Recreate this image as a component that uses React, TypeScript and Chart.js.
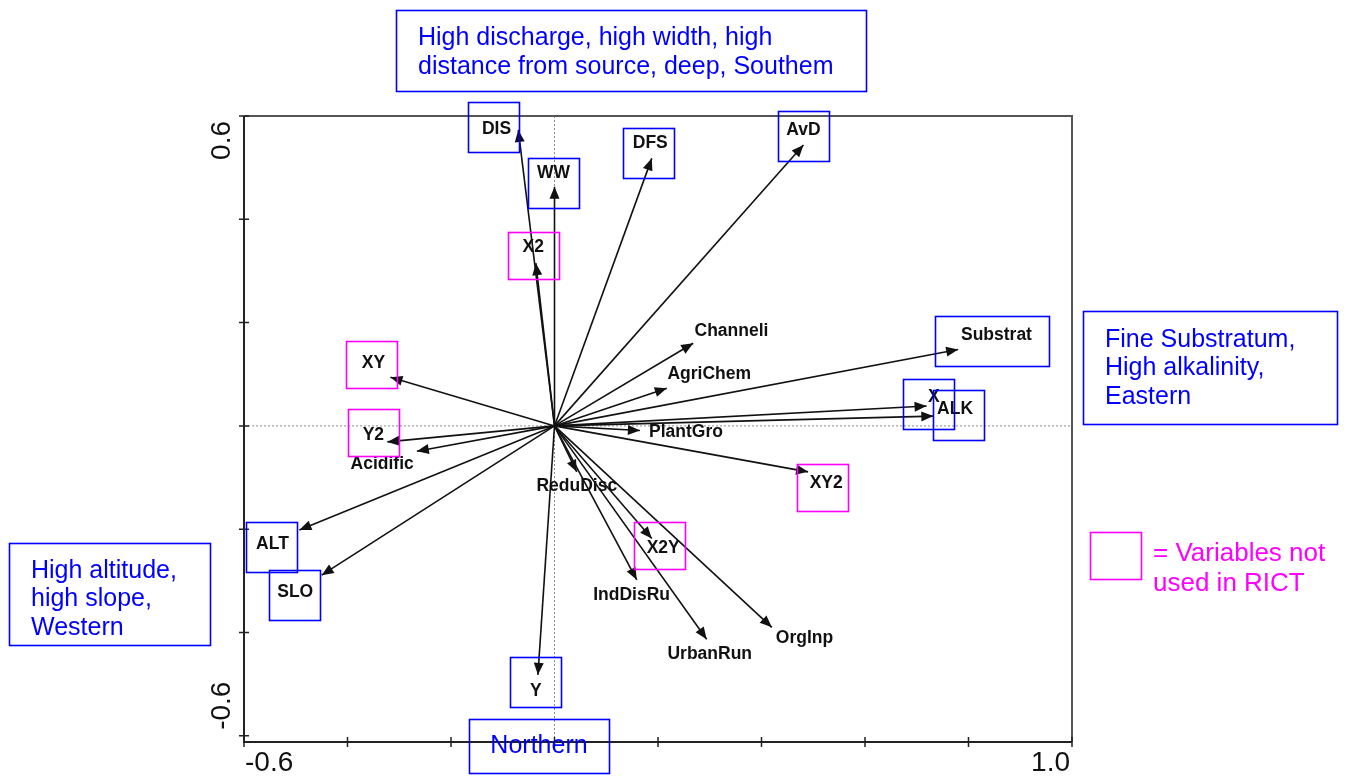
import React, { useEffect, useRef } from 'react';
import { Chart, registerables } from 'chart.js';

Chart.register(...registerables);

// ---- Data ----
const varNames = ['DIS', 'WW', 'X2', 'DFS', 'AvD', 'Channeli', 'AgriChem', 'Substrat', 'X', 'ALK', 'PlantGro', 'XY2', 'X2Y', 'ReduDisc', 'IndDisRu', 'UrbanRun', 'OrgInp', 'Y', 'SLO', 'ALT', 'Acidific', 'Y2', 'XY'];
const tipX = [-0.070, 0.0, -0.036, 0.188, 0.481, 0.268, 0.217, 0.780, 0.719, 0.732, 0.165, 0.490, 0.188, 0.043, 0.159, 0.294, 0.420, -0.032, -0.450, -0.493, -0.266, -0.323, -0.317];
const tipY = [0.573, 0.463, 0.315, 0.518, 0.544, 0.160, 0.073, 0.148, 0.0385, 0.019, -0.009, -0.089, -0.218, -0.089, -0.298, -0.413, -0.390, -0.482, -0.289, -0.2015, -0.049, -0.031, 0.094];
const labelX = [-0.112, -0.002, -0.041, 0.185, 0.481, 0.342, 0.299, 0.854, 0.733, 0.774, 0.254, 0.525, 0.210, 0.043, 0.149, 0.300, 0.483, -0.036, -0.501, -0.545, -0.333, -0.350, -0.350];
const labelY = [0.574, 0.490, 0.347, 0.547, 0.573, 0.184, 0.100, 0.175, 0.0565, 0.032, -0.013, -0.111, -0.237, -0.116, -0.327, -0.442, -0.411, -0.513, -0.321, -0.229, -0.074, -0.018, 0.121];

// Boxes around key variables (blue = used in RICT, magenta = not used)
const boxNames = ['DIS', 'WW', 'X2', 'DFS', 'AvD', 'Substrat', 'X', 'ALK', 'XY2', 'X2Y', 'Y', 'SLO', 'ALT', 'Y2', 'XY'];
const boxX = [-0.117, -0.002, -0.040, 0.182, 0.481, 0.845, 0.723, 0.781, 0.518, 0.203, -0.036, -0.502, -0.547, -0.349, -0.353];
const boxY = [0.578, 0.470, 0.330, 0.529, 0.5605, 0.1636, 0.0418, 0.0207, -0.119, -0.232, -0.495, -0.328, -0.2345, -0.0128, 0.118];
const boxInRict = [true, true, false, true, true, true, true, true, false, false, true, true, true, false, false];

// Axes
const xTicks = [-0.6, -0.4, -0.2, 0, 0.2, 0.4, 0.6, 0.8, 1.0];
const yTicks = [-0.6, -0.4, -0.2, 0, 0.2, 0.4, 0.6];
const xTickLabels = ['-0.6', '', '', '', '', '', '', '', '1.0'];
const yTickLabels = ['-0.6', '', '', '', '', '', '0.6'];

// Interpretation notes
const southNote = ['High discharge, high width, high', 'distance from source, deep, Southem'];
const eastNote = ['Fine Substratum,', 'High alkalinity,', 'Eastern'];
const westNote = ['High altitude,', 'high slope,', 'Western'];
const northNote = ['Northern'];
const legendNote = ['= Variables not', 'used in RICT'];

const BLUE = '#0000ff';
const MAGENTA = '#ff00ff';
const SANS = '"Liberation Sans", Arial, Helvetica, sans-serif';

const biplotPlugin = {
  id: 'biplot',
  beforeDatasetsDraw(chart: any) {
    const { ctx, chartArea: a, scales } = chart;
    const x = scales.x;
    const y = scales.y;
    ctx.save();
    const x0 = x.getPixelForValue(0);
    const y0 = y.getPixelForValue(0);
    ctx.strokeStyle = '#8c8c8c';
    ctx.lineWidth = 1;
    ctx.setLineDash([2, 2]);
    ctx.beginPath();
    ctx.moveTo(a.left, y0);
    ctx.lineTo(a.right, y0);
    ctx.moveTo(x0, a.top);
    ctx.lineTo(x0, a.bottom);
    ctx.stroke();
    ctx.setLineDash([]);

    // frame
    ctx.strokeStyle = '#555';
    ctx.lineWidth = 2;
    ctx.beginPath();
    ctx.moveTo(a.left, a.top);
    ctx.lineTo(a.right, a.top);
    ctx.lineTo(a.right, a.bottom);
    ctx.stroke();
    ctx.strokeStyle = '#222';
    ctx.beginPath();
    ctx.moveTo(a.left, a.top);
    ctx.lineTo(a.left, a.bottom);
    ctx.lineTo(a.right, a.bottom);
    ctx.stroke();

    // ticks
    ctx.lineWidth = 1.5;
    ctx.beginPath();
    xTicks.forEach((v) => {
      const p = x.getPixelForValue(v);
      ctx.moveTo(p, a.bottom - 5);
      ctx.lineTo(p, a.bottom + 5);
    });
    yTicks.forEach((v) => {
      const p = y.getPixelForValue(v);
      ctx.moveTo(a.left - 5, p);
      ctx.lineTo(a.left + 5, p);
    });
    ctx.stroke();

    // tick labels
    ctx.fillStyle = '#111';
    ctx.font = `28px ${SANS}`;
    ctx.textBaseline = 'middle';
    xTickLabels.forEach((t, i) => {
      if (!t) return;
      const p = x.getPixelForValue(xTicks[i]);
      ctx.textAlign = i === 0 ? 'left' : i === xTicks.length - 1 ? 'right' : 'center';
      ctx.fillText(t, p + (i === 0 ? 1 : -2), a.bottom + 21);
    });
    yTickLabels.forEach((t, i) => {
      if (!t) return;
      const p = y.getPixelForValue(yTicks[i]);
      ctx.save();
      ctx.translate(a.left - 22, p);
      ctx.rotate(-Math.PI / 2);
      if (i === 0) {
        ctx.textAlign = 'left';
        ctx.fillText(t, 6, 0);
      } else if (i === yTicks.length - 1) {
        ctx.textAlign = 'right';
        ctx.fillText(t, -5, 0);
      } else {
        ctx.textAlign = 'center';
        ctx.fillText(t, 0, 0);
      }
      ctx.restore();
    });
    ctx.restore();
  },
  afterDatasetsDraw(chart: any) {
    const { ctx, scales } = chart;
    const x = scales.x;
    const y = scales.y;
    ctx.save();
    const ox = x.getPixelForValue(0);
    const oy = y.getPixelForValue(0);

    // arrowheads
    ctx.fillStyle = '#111';
    varNames.forEach((_, i) => {
      const px = x.getPixelForValue(tipX[i]);
      const py = y.getPixelForValue(tipY[i]);
      const ang = Math.atan2(py - oy, px - ox);
      const L = 12;
      const W = 5;
      const bx = px - L * Math.cos(ang);
      const by = py - L * Math.sin(ang);
      ctx.beginPath();
      ctx.moveTo(px, py);
      ctx.lineTo(bx + W * Math.sin(ang), by - W * Math.cos(ang));
      ctx.lineTo(bx - W * Math.sin(ang), by + W * Math.cos(ang));
      ctx.closePath();
      ctx.fill();
    });

    // variable labels
    ctx.font = `bold 17.5px ${SANS}`;
    ctx.textAlign = 'center';
    ctx.textBaseline = 'middle';
    ctx.fillStyle = '#111';
    varNames.forEach((n, i) => {
      ctx.fillText(n, x.getPixelForValue(labelX[i]), y.getPixelForValue(labelY[i]));
    });

    // boxes
    ctx.lineWidth = 1.6;
    boxNames.forEach((n, i) => {
      const cx = x.getPixelForValue(boxX[i]);
      const cy = y.getPixelForValue(boxY[i]);
      const tw = ctx.measureText(n).width;
      const w = tw > 50 ? tw + 43 : 51;
      const h = boxInRict[i] ? 50 : 47;
      ctx.strokeStyle = boxInRict[i] ? BLUE : MAGENTA;
      ctx.strokeRect(Math.round(cx - w / 2) + 0.5, Math.round(cy - h / 2) + 0.5, w, h);
    });

    // notes
    const note = (lines: string[], color: string, bx: number, by: number, bw: number, bh: number, tx: number, ty: number, lh: number, size: number, center = false) => {
      ctx.strokeStyle = color;
      ctx.lineWidth = 1.6;
      if (bw > 0) ctx.strokeRect(bx + 0.5, by + 0.5, bw, bh);
      ctx.fillStyle = color;
      ctx.font = `${size}px ${SANS}`;
      ctx.textAlign = center ? 'center' : 'left';
      ctx.textBaseline = 'middle';
      lines.forEach((l, k) => ctx.fillText(l, tx, ty + k * lh));
    };
    note(southNote, BLUE, 396, 10, 470, 81, 418, 38, 29, 25);
    note(eastNote, BLUE, 1083, 311, 254, 113, 1105, 340, 28.5, 25);
    note(westNote, BLUE, 9, 543, 201, 102, 31, 571, 28.5, 25);
    note(northNote, BLUE, 469, 719, 140, 54, 539, 746, 0, 25, true);
    note(legendNote, MAGENTA, 1090, 532, 51, 47, 1153, 554, 30, 26);
    ctx.restore();
  },
};

export default function App() {
  const ref = useRef<HTMLCanvasElement | null>(null);
  useEffect(() => {
    if (!ref.current) return;
    const chart = new Chart(ref.current, {
      type: 'scatter',
      data: {
        datasets: varNames.map((n, i) => ({
          label: n,
          data: [
            { x: 0, y: 0 },
            { x: tipX[i], y: tipY[i] },
          ],
          showLine: true,
          borderColor: '#111',
          borderWidth: 1.6,
          pointRadius: 0,
          pointHoverRadius: 0,
          fill: false,
        })),
      },
      options: {
        responsive: false,
        maintainAspectRatio: false,
        devicePixelRatio: 1,
        animation: false,
        events: [],
        layout: { padding: { left: 244, right: 276, top: 116, bottom: 34 } },
        plugins: { legend: { display: false }, tooltip: { enabled: false } },
        scales: {
          x: { type: 'linear', min: -0.6, max: 1.0, display: false },
          y: { type: 'linear', min: -0.612, max: 0.6, display: false },
        },
      },
      plugins: [biplotPlugin],
    } as any);
    return () => chart.destroy();
  }, []);
  return (
    <div style={{ position: 'fixed', left: 0, top: 0, width: 1348, height: 776, background: '#fff' }}>
      <canvas ref={ref} width={1348} height={776} style={{ display: 'block' }} />
    </div>
  );
}
